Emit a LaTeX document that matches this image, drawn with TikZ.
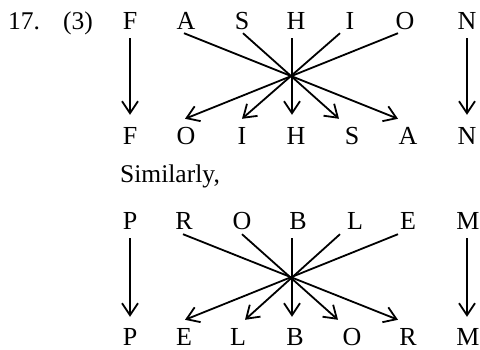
\documentclass[tikz,border=0pt]{standalone}
\usepackage{fontspec}
\setmainfont{Liberation Serif}
\usetikzlibrary{arrows.meta}
\begin{document}
\begin{tikzpicture}[x=1pt,y=-1pt,
  lt/.style={font=\fontsize{26}{30}\selectfont, anchor=base, inner sep=0pt, text height=17pt, text depth=0pt},
  txt/.style={font=\fontsize{25.5}{30}\selectfont, anchor=base west, inner sep=0pt},
  arr/.style={line width=1.8pt, -{Straight Barb[length=12pt,width=16pt,line width=1.8pt]}}]
\useasboundingbox (0,0) rectangle (480,350);
% labels
\node[txt] (num) at (8,30) {17.};
\node[txt] (opt) at (63,30) {(3)};
\node[txt] (sim) at (120,183) {Similarly,};
% block 1 top
\node[lt] (F1) at (130,30) {F};
\node[lt] (A1) at (186,30) {A};
\node[lt] (S1) at (242,30) {S};
\node[lt] (H1) at (296,30) {H};
\node[lt] (I1) at (350,30) {I};
\node[lt] (O1) at (405,30) {O};
\node[lt] (N1) at (467,30) {N};
% block 1 bottom
\node[lt] (F2) at (130,145) {F};
\node[lt] (O2) at (186,145) {O};
\node[lt] (I2) at (242,145) {I};
\node[lt] (H2) at (296,145) {H};
\node[lt] (S2) at (352,145) {S};
\node[lt] (A2) at (408,145) {A};
\node[lt] (N2) at (467,145) {N};
% block 1 arrows
\draw[arr] ([yshift=-8pt]F1.south) -- ([yshift=13pt]F2.north);
\draw[arr] ([xshift=-2pt,yshift=-3pt]A1.south) -- ([xshift=-10pt,yshift=9pt]A2.north);
\draw[arr] ([xshift=1pt,yshift=-3pt]S1.south) -- ([xshift=-13pt,yshift=9pt]S2.north);
\draw[arr] ([xshift=-4pt,yshift=-8pt]H1.south) -- ([xshift=-4pt,yshift=13pt]H2.north);
\draw[arr] ([xshift=-10pt,yshift=-3pt]I1.south) -- ([yshift=9pt]I2.north);
\draw[arr] ([xshift=-7pt,yshift=-3pt]O1.south) -- ([xshift=-1pt,yshift=9pt]O2.north);
\draw[arr] ([yshift=-8pt]N1.south) -- ([yshift=13pt]N2.north);
% block 2 top
\node[lt] (P3) at (130,230) {P};
\node[lt] (R3) at (184,230) {R};
\node[lt] (O3) at (242,230) {O};
\node[lt] (B3) at (298,230) {B};
\node[lt] (L3) at (355,230) {L};
\node[lt] (E3) at (408,230) {E};
\node[lt] (M3) at (468,230) {M};
% block 2 bottom
\node[lt] (P4) at (130,345) {P};
\node[lt] (E4) at (184,345) {E};
\node[lt] (L4) at (238,345) {L};
\node[lt] (B4) at (295,345) {B};
\node[lt] (O4) at (352,345) {O};
\node[lt] (R4) at (408,345) {R};
\node[lt] (M4) at (468,345) {M};
% block 2 arrows
\draw[arr] ([yshift=-8pt]P3.south) -- ([yshift=11pt]P4.north);
\draw[arr] ([xshift=-1pt,yshift=-4pt]R3.south) -- ([xshift=-10pt,yshift=8pt]R4.north);
\draw[arr] ([yshift=-4pt]O3.south) -- ([xshift=-14pt,yshift=8pt]O4.north);
\draw[arr] ([xshift=-6pt,yshift=-8pt]B3.south) -- ([xshift=-3pt,yshift=11pt]B4.north);
\draw[arr] ([xshift=-15pt,yshift=-4pt]L3.south) -- ([xshift=7pt,yshift=8pt]L4.north);
\draw[arr] ([xshift=-10pt,yshift=-4pt]E3.south) -- ([xshift=1pt,yshift=8pt]E4.north);
\draw[arr] ([xshift=-1pt,yshift=-8pt]M3.south) -- ([xshift=-1pt,yshift=11pt]M4.north);
\end{tikzpicture}
\end{document}
